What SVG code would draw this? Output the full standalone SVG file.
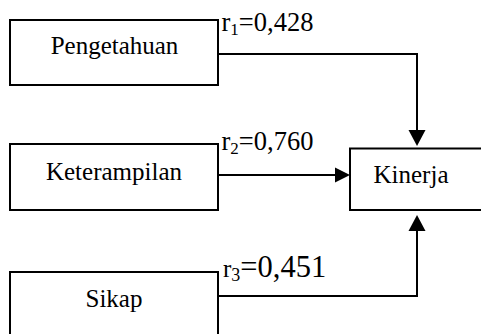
<svg xmlns="http://www.w3.org/2000/svg" width="481" height="334" viewBox="0 0 481 334">
<style>
.box{fill:#fff;stroke:#000;stroke-width:2}
.t{font-family:"Liberation Serif","Times New Roman",serif;font-size:25px;fill:#000}
.c{text-anchor:middle}
.lbl{font-size:26.5px}
.ln{fill:none;stroke:#000;stroke-width:2}
.ah{fill:#000}
</style>
<rect width="481" height="334" fill="#fff"/>
<g id="pengetahuan">
<rect class="box" x="10" y="20" width="208" height="65"/>
<text class="t c" x="114.5" y="54">Pengetahuan</text>
</g>
<g id="keterampilan">
<rect class="box" x="10" y="144" width="208" height="66"/>
<text class="t c" x="114" y="180">Keterampilan</text>
</g>
<g id="sikap">
<rect class="box" x="10" y="272" width="208" height="72"/>
<text class="t c" x="114" y="306.5">Sikap</text>
</g>
<g id="kinerja">
<rect class="box" x="350" y="148.5" width="140" height="61.5"/>
<text class="t c" x="411" y="183">Kinerja</text>
</g>
<g id="connectors">
<path class="ln" d="M218 54 H417 V131"/>
<polygon class="ah" points="417,146 408.5,130 425.5,130"/>
<path class="ln" d="M218 175 H336"/>
<polygon class="ah" points="350,175 335,167.5 335,182.5"/>
<path class="ln" d="M218 296 H417 V229"/>
<polygon class="ah" points="417,215 408.5,231 425.5,231"/>
<text class="t lbl" x="221.5" y="30.5">r<tspan font-size="17" dy="4">1</tspan><tspan dy="-4">=0,428</tspan></text>
<text class="t lbl" x="221.5" y="150">r<tspan font-size="17" dy="4">2</tspan><tspan dy="-4">=0,760</tspan></text>
<text class="t" x="223" y="276.5">r<tspan font-size="18" dy="4">3</tspan><tspan font-size="30.5" dy="-4">=0,451</tspan></text>
</g>
</svg>
